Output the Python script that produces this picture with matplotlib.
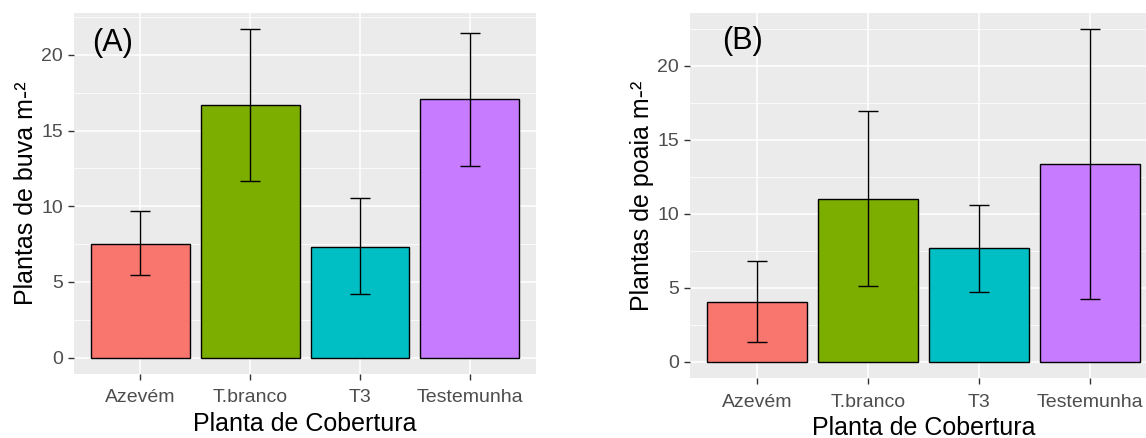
import numpy as np
import matplotlib
matplotlib.use('Agg')
import matplotlib.pyplot as plt
from matplotlib.ticker import MultipleLocator

plt.rcParams['font.family'] = ['Liberation Sans', 'DejaVu Sans']

# data
categorias = ['Azevém', 'T.branco', 'T3', 'Testemunha']
cores = ['#F8766D', '#7CAE00', '#00BFC4', '#C77CFF']

buva_media = [7.49, 16.71, 7.31, 17.06]
buva_inf = [5.43, 11.64, 4.18, 12.65]
buva_sup = [9.66, 21.70, 10.57, 21.46]

poaia_media = [4.03, 11.01, 7.66, 13.35]
poaia_inf = [1.30, 5.09, 4.73, 4.21]
poaia_sup = [6.78, 16.98, 10.58, 22.47]


def gg_barplot(ax, media, inf, sup, ylabel, letra, letra_xy):
    x = np.arange(1, len(categorias) + 1)
    media = np.array(media)
    yerr = [media - np.array(inf), np.array(sup) - media]

    ax.set_facecolor('#EBEBEB')
    ax.bar(x, media, width=0.9, color=cores, edgecolor='black', linewidth=1.0, zorder=3)
    ax.errorbar(x, media, yerr=yerr, fmt='none', ecolor='black', elinewidth=1.0,
                capsize=7, capthick=1.0, zorder=4)

    # ggplot style limits (5% expansion, 0.6 on the discrete axis)
    top = max(sup)
    ax.set_xlim(0.4, len(categorias) + 0.6)
    ax.set_ylim(-0.05 * top, 1.05 * top)

    ax.yaxis.set_major_locator(MultipleLocator(5))
    ax.yaxis.set_minor_locator(MultipleLocator(2.5))
    ax.set_xticks(x)
    ax.set_xticklabels(categorias)

    ax.grid(which='major', color='white', linewidth=1.1, zorder=0)
    ax.grid(which='minor', axis='y', color='white', linewidth=0.55, zorder=0)
    ax.set_axisbelow(True)
    for s in ax.spines.values():
        s.set_visible(False)

    ax.tick_params(which='major', length=4, width=1.0, color='#333333',
                   labelsize=14, labelcolor='#4D4D4D', pad=4)
    ax.tick_params(axis='x', pad=7)
    ax.tick_params(which='minor', length=0)

    ax.set_xlabel('Planta de Cobertura', fontsize=18, color='black', labelpad=4)
    ax.set_ylabel(ylabel, fontsize=18, color='black', labelpad=2)
    ax.text(letra_xy[0], letra_xy[1], letra, fontsize=22, color='black',
            ha='center', va='center', zorder=5)


fig = plt.figure(figsize=(11.46, 4.38), dpi=100)
ax1 = fig.add_axes([0.0646, 0.1461, 0.4031, 0.8249])
ax2 = fig.add_axes([0.6021, 0.1363, 0.4075, 0.8347])

gg_barplot(ax1, buva_media, buva_inf, buva_sup, 'Plantas de buva m-²', '(A)', (0.75, 20.8))
gg_barplot(ax2, poaia_media, poaia_inf, poaia_sup, 'Plantas de poaia m-²', '(B)', (0.87, 21.66))

fig.savefig('out.png', dpi=100, facecolor='white')
